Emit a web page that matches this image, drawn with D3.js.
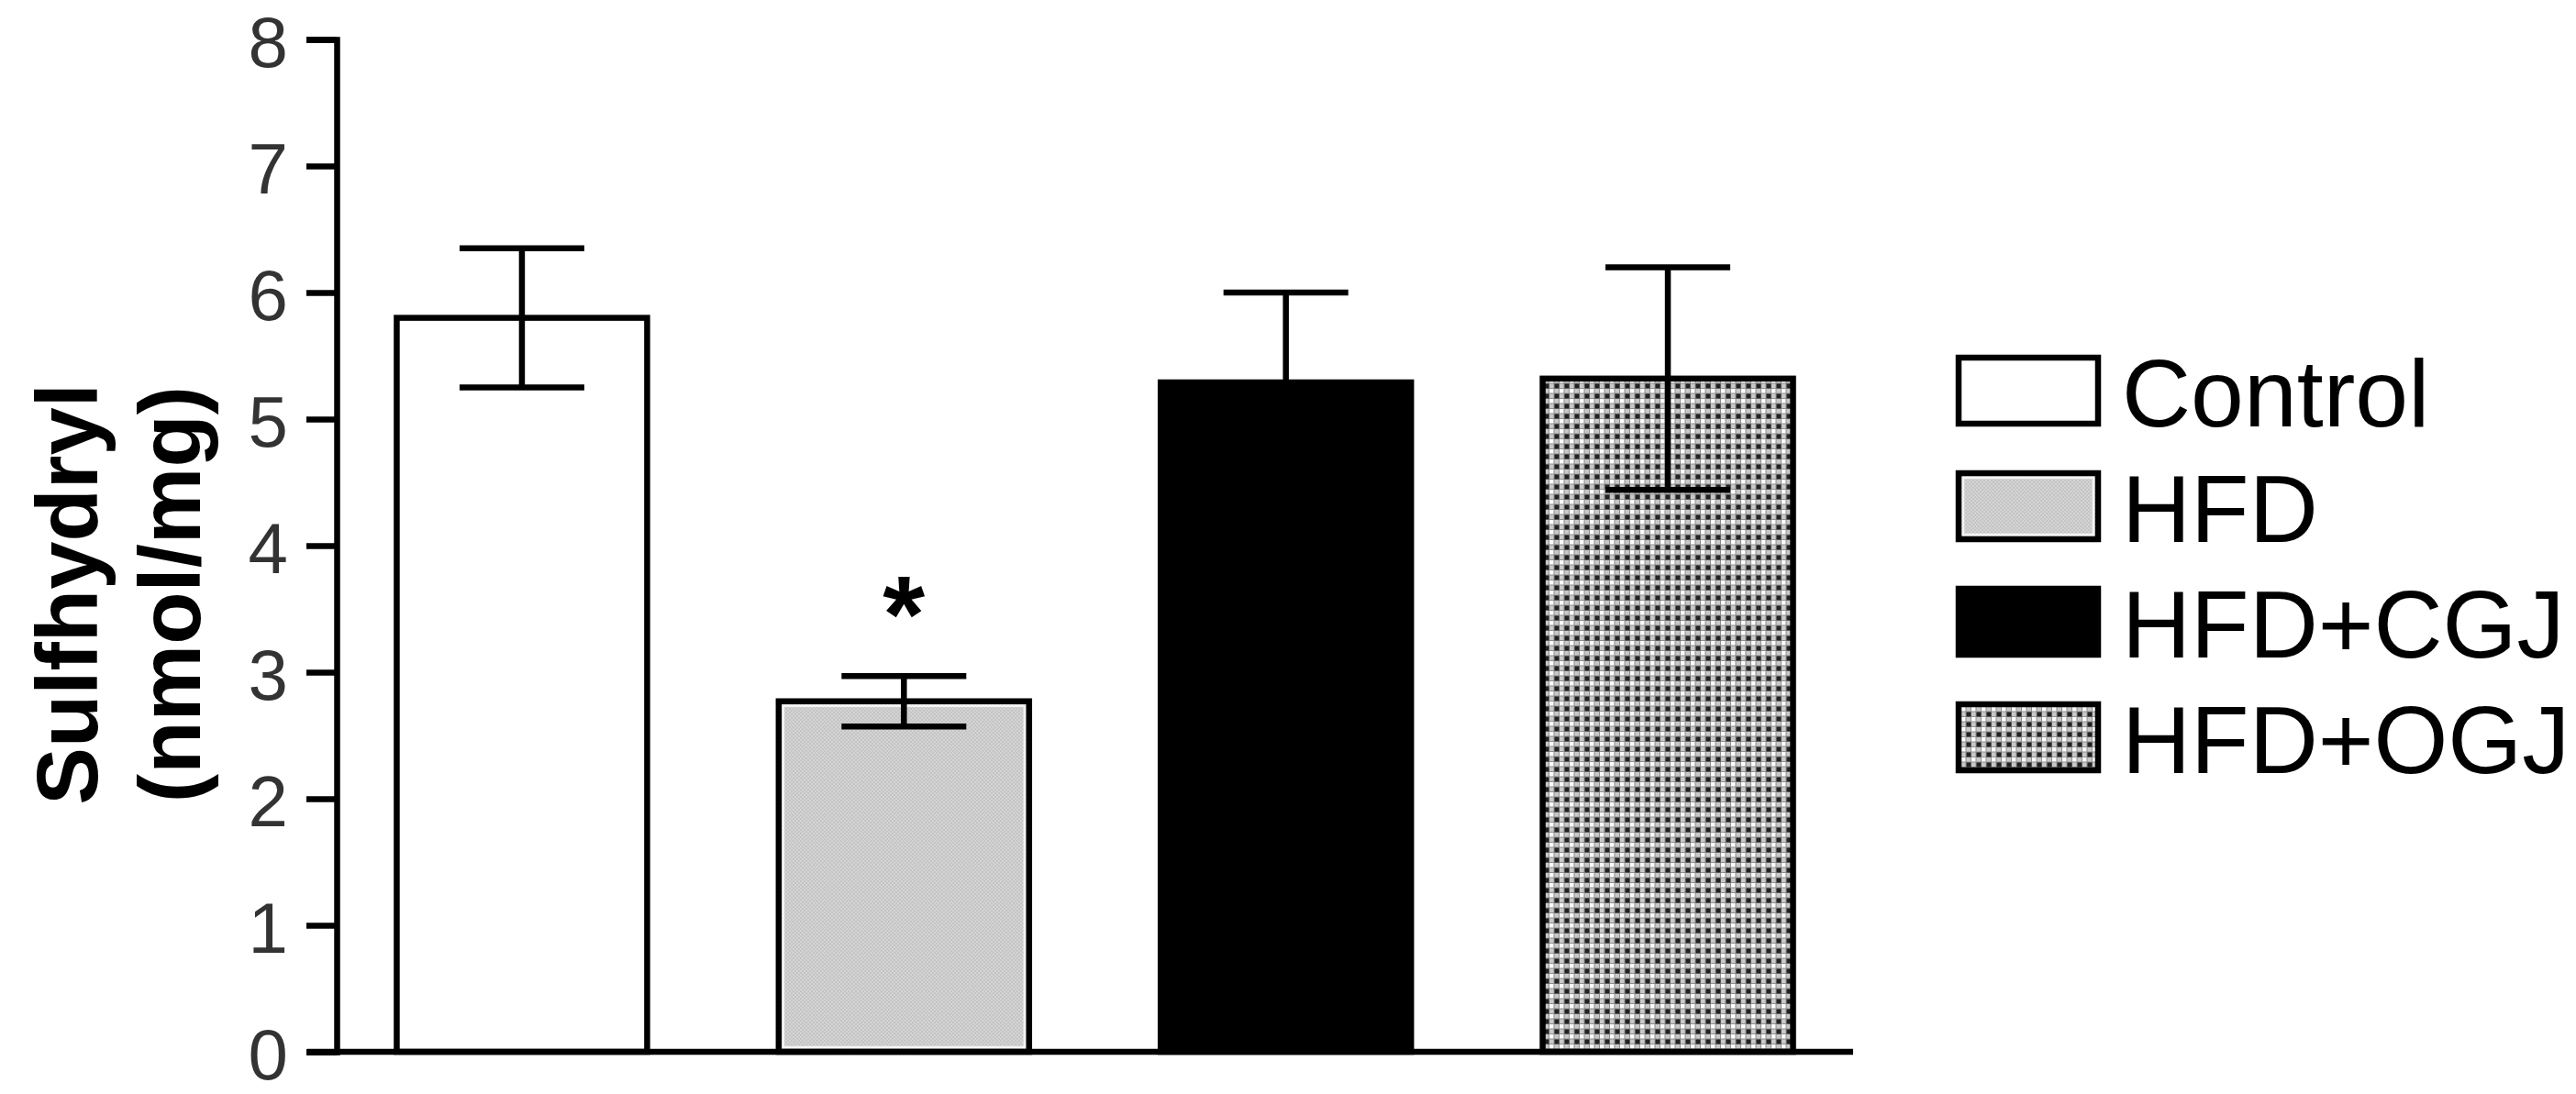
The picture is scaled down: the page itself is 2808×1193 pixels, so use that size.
<!DOCTYPE html>
<html>
<head>
<meta charset="utf-8">
<script src="https://cdn.jsdelivr.net/npm/d3@7"></script>
<style>
  body { margin: 0; background: #fff; }
  svg { display: block; font-family: "Liberation Sans", Arial, sans-serif; }
</style>
</head>
<body>
<svg id="chart" width="2808" height="1193"></svg>
<script>
// ------ data ------
var categories = ['Control', 'HFD', 'HFD+CGJ', 'HFD+OGJ']
var means = [5.8, 2.77, 5.29, 5.32]
var errors = [0.55, 0.2, 0.71, 0.88]
var marks = ['', '*', '', '']
var yTicks = [0, 1, 2, 3, 4, 5, 6, 7, 8]
var fills = ['#fff', 'url(#hfd)', '#000', 'url(#ogj)']
var innerLine = [false, true, false, false]

var svg = d3.select('#chart')

// ------ patterns for the HFD and HFD+OGJ bars ------
var defs = svg.append('defs')

var hfd = defs.append('pattern')
  .attr('id', 'hfd')
  .attr('patternUnits', 'userSpaceOnUse')
  .attr('width', 4).attr('height', 4)
hfd.append('rect').attr('width', 4).attr('height', 4).attr('fill', '#d4d4d4')
hfd.append('rect').attr('width', 2).attr('height', 2).attr('fill', '#c4c4c4')
hfd.append('rect').attr('x', 2).attr('y', 2).attr('width', 2).attr('height', 2).attr('fill', '#c4c4c4')

// checker: dark dot, white dot, grey in between
var ogj = defs.append('pattern')
  .attr('id', 'ogj')
  .attr('patternUnits', 'userSpaceOnUse')
  .attr('width', 11).attr('height', 11)
ogj.append('rect').attr('width', 11).attr('height', 11).attr('fill', '#8e8e8e')
ogj.append('rect').attr('x', 0.5).attr('y', 0.5).attr('width', 5).attr('height', 5).attr('fill', '#222')
ogj.append('rect').attr('x', 6).attr('y', 6).attr('width', 4.5).attr('height', 4.5).attr('fill', '#fff')
ogj.append('rect').attr('x', 6).attr('y', 0.5).attr('width', 4.5).attr('height', 4.5).attr('fill', '#c8c8c8')
ogj.append('rect').attr('x', 0.5).attr('y', 6).attr('width', 4.5).attr('height', 4.5).attr('fill', '#c8c8c8')

// ------ scales ------
var x = d3.scaleBand()
  .domain(categories)
  .range([367, 2020])
  .paddingInner(0.33)
  .paddingOuter(0.15)

var y = d3.scaleLinear()
  .domain([0, 8])
  .range([1147, 43])

// ------ y axis ------
var yAxis = svg.append('g')
  .attr('transform', 'translate(367,0)')
  .call(d3.axisLeft(y).tickValues(yTicks).tickSize(33).tickPadding(20).tickFormat(d3.format('d')))

yAxis.select('.domain').attr('stroke', '#000').attr('stroke-width', 6.5)
yAxis.selectAll('.tick line').attr('stroke', '#000').attr('stroke-width', 6.5)
yAxis.selectAll('.tick text')
  .attr('dy', '0.38em')
  .attr('font-size', 78)
  .attr('fill', '#333')
  .attr('font-family', '"Liberation Sans", Arial, sans-serif')

// ------ bars ------
var bars = svg.append('g')
bars.selectAll('rect.bar')
  .data(categories)
  .enter().append('rect')
  .attr('class', 'bar')
  .attr('x', function (d) { return x(d) + 3 })
  .attr('y', function (d, i) { return y(means[i]) })
  .attr('width', x.bandwidth() - 6)
  .attr('height', function (d, i) { return y(0) - y(means[i]) })
  .attr('fill', function (d, i) { return fills[i] })
  .attr('stroke', '#000')
  .attr('stroke-width', 6.5)

bars.selectAll('rect.inner')
  .data(categories.filter(function (d, i) { return innerLine[i] }))
  .enter().append('rect')
  .attr('class', 'inner')
  .attr('x', function (d) { return x(d) + 8 })
  .attr('y', function (d) { return y(means[categories.indexOf(d)]) + 5 })
  .attr('width', x.bandwidth() - 16)
  .attr('height', function (d) { return y(0) - y(means[categories.indexOf(d)]) - 10 })
  .attr('fill', 'none')
  .attr('stroke', '#f4f4f4')
  .attr('stroke-width', 2.5)

// ------ error bars ------
var capWidth = 136
var err = svg.append('g').attr('stroke', '#000').attr('stroke-width', 6.5)
categories.forEach(function (d, i) {
  var cx = x(d) + x.bandwidth() / 2
  var hi = y(means[i] + errors[i])
  var lo = y(means[i] - errors[i])
  err.append('line').attr('x1', cx).attr('x2', cx).attr('y1', hi).attr('y2', lo)
  err.append('line').attr('x1', cx - capWidth / 2).attr('x2', cx + capWidth / 2).attr('y1', hi).attr('y2', hi)
  err.append('line').attr('x1', cx - capWidth / 2).attr('x2', cx + capWidth / 2).attr('y1', lo).attr('y2', lo)
})

// ------ significance marks ------
svg.append('g').selectAll('text')
  .data(categories)
  .enter().append('text')
  .attr('x', function (d) { return x(d) + x.bandwidth() / 2 })
  .attr('y', function (d, i) { return y(means[i] + errors[i]) - 26 })
  .attr('text-anchor', 'middle')
  .attr('font-size', 118)
  .attr('font-weight', 'bold')
  .attr('fill', '#000')
  .text(function (d, i) { return marks[i] })

// ------ x axis line ------
svg.append('line')
  .attr('x1', 335).attr('x2', 2020)
  .attr('y1', y(0)).attr('y2', y(0))
  .attr('stroke', '#000')
  .attr('stroke-width', 6.5)

// ------ y axis title ------
var titleLines = ['Sulfhydryl', '(nmol/mg)']
svg.append('g').selectAll('text')
  .data(titleLines)
  .enter().append('text')
  .attr('transform', function (d, i) { return 'translate(' + (106 + i * 112) + ',648) rotate(-90)' })
  .attr('text-anchor', 'middle')
  .attr('font-size', 94)
  .attr('font-weight', 'bold')
  .attr('fill', '#000')
  .text(function (d) { return d })

// ------ legend ------
var legend = svg.append('g')
  .selectAll('g')
  .data(categories)
  .enter().append('g')
  .attr('transform', function (d, i) { return 'translate(2132,' + (387 + i * 126) + ')' })

legend.append('rect')
  .attr('x', 3).attr('y', 3)
  .attr('width', 152).attr('height', 72)
  .attr('fill', function (d, i) { return fills[i] })
  .attr('stroke', '#000')
  .attr('stroke-width', 6.5)

legend.filter(function (d, i) { return innerLine[i] })
  .append('rect')
  .attr('x', 8).attr('y', 8)
  .attr('width', 142).attr('height', 62)
  .attr('fill', 'none')
  .attr('stroke', '#f4f4f4')
  .attr('stroke-width', 2.5)

legend.append('text')
  .attr('x', 181)
  .attr('y', 78)
  .attr('font-size', 104)
  .attr('fill', '#000')
  .text(function (d) { return d })
</script>
</body>
</html>
